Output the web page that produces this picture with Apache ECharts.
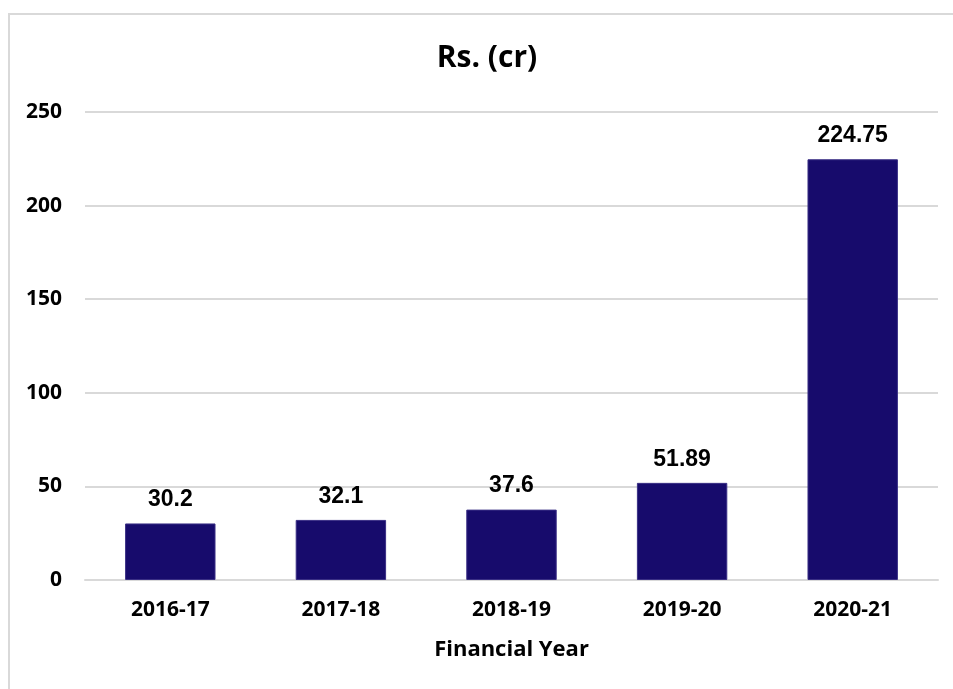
<!DOCTYPE html>
<html>
<head>
<meta charset="utf-8">
<script src="https://cdn.jsdelivr.net/npm/echarts@6/dist/echarts.min.js"></script>
<style>
  html, body { margin: 0; padding: 0; background: #fff; }
  #main-chart { width: 953px; height: 689px; }
</style>
</head>
<body>
<div id="main-chart"></div>
<script>
const years = ['2016-17', '2017-18', '2018-19', '2019-20', '2020-21'];
const amounts = [30.2, 32.1, 37.6, 51.89, 224.75];
const yTicks = [0, 50, 100, 150, 200, 250];

const axisFont = '"Open Sans", Lato, sans-serif';
const labelFont = '"Liberation Sans", Arial, sans-serif';

const myChart = echarts.init(document.getElementById('main-chart'));

const option = {
    animation: false,
    grid: {
        left: 85,
        right: 15,
        top: 112,
        bottom: 109,
    },
    graphic: [
        {
            // chart border
            type: 'rect',
            shape: { x: 9, y: 14, width: 980, height: 720 },
            style: { fill: 'none', stroke: '#d9d9d9', lineWidth: 2 },
            silent: true,
        },
        {
            type: 'text',
            x: 487,
            y: 58,
            style: {
                text: 'Rs. (cr)',
                fill: '#000',
                font: 'bold 30px ' + axisFont,
                textAlign: 'center',
                textVerticalAlign: 'middle',
            },
        },
    ],
    xAxis: {
        type: 'category',
        data: years,
        name: 'Financial Year',
        nameLocation: 'middle',
        nameGap: 59,
        nameTextStyle: {
            color: '#000',
            fontWeight: 'bold',
            fontFamily: axisFont,
            fontSize: 22,
        },
        axisLine: {
            show: true,
            lineStyle: { color: '#d9d9d9', width: 2 },
        },
        axisTick: { show: false },
        axisLabel: {
            color: '#000',
            fontWeight: 'bold',
            fontFamily: axisFont,
            fontSize: 21,
            margin: 20,
        },
    },
    yAxis: {
        type: 'value',
        min: yTicks[0],
        max: yTicks[yTicks.length - 1],
        interval: 50,
        axisLine: { show: false },
        axisTick: { show: false },
        splitLine: {
            lineStyle: { color: '#d9d9d9', width: 2 },
        },
        axisLabel: {
            color: '#000',
            fontWeight: 'bold',
            fontFamily: axisFont,
            fontSize: 21,
            margin: 23,
        },
    },
    series: [{
        type: 'bar',
        data: amounts,
        barWidth: '53%',
        itemStyle: {
            color: '#170b6c',
            borderColor: '#3a2f85',
            borderWidth: 1,
        },
        label: {
            show: true,
            position: 'top',
            distance: 12,
            color: '#000',
            fontWeight: 'bold',
            fontFamily: labelFont,
            fontSize: 23,
        },
    }],
};

myChart.setOption(option);
</script>
</body>
</html>
